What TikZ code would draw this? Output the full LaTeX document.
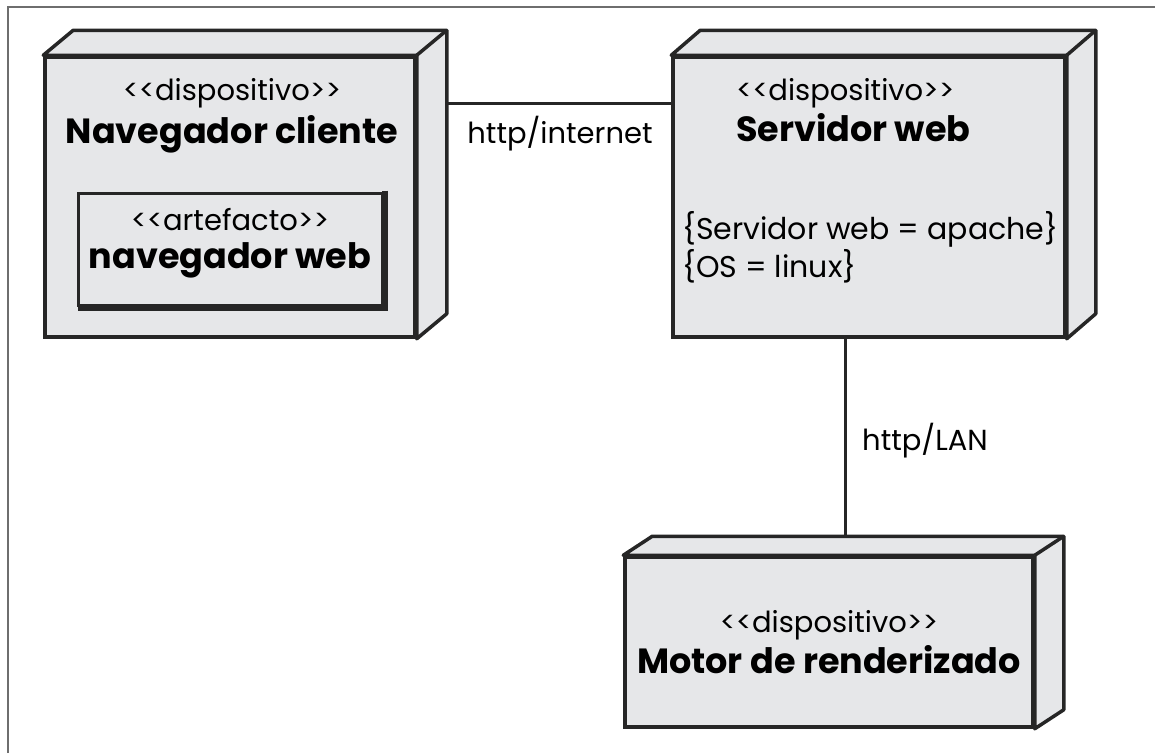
\documentclass[tikz,border=0pt]{standalone}
\usepackage{fontspec}
\setmainfont{Poppins}
\usetikzlibrary{calc, positioning}
\definecolor{devgray}{RGB}{230,231,233}
\definecolor{framegray}{RGB}{110,110,110}
\newcommand{\stereotype}[1]{<{}<#1>{}>}
\tikzset{device/.style = {draw=black!85, line width=3.5pt, fill=devgray, rectangle, inner sep=0pt}}
\tikzset{face/.style = {draw=black!85, line width=3.5pt, fill=devgray, line join=round}}
\tikzset{artifact/.style = {draw=black!85, line width=3pt, rectangle, inner sep=0pt}}
\tikzset{link/.style = {draw=black!85, line width=3pt}}
\tikzset{stereo/.style = {anchor=base, inner sep=0pt, font=\fontsize{29}{33}\selectfont}}
\tikzset{title/.style = {anchor=base, inner sep=0pt, font=\fontsize{35}{39}\selectfont\bfseries}}
\tikzset{prop/.style = {anchor=base west, inner sep=0pt, font=\fontsize{30}{34}\selectfont}}

\begin{document}
\begin{tikzpicture}[x=1pt, y=-1pt]
  \useasboundingbox (0,0) rectangle (1155,753);
  \draw[framegray, line width=2pt] (8,753) -- (8,7) -- (1155,7);

  % nodes (front faces)
  \node[device, minimum width=370pt, minimum height=280pt] (cli) at (230,197) {};
  \node[device, minimum width=392pt, minimum height=280pt] (srv) at (869,197) {};
  \node[device, minimum width=408pt, minimum height=170pt] (mot) at (829,642) {};

  % top and side faces
  \foreach \n/\dx/\dy in {cli/30/-25, srv/29/-25, mot/29/-19}
  {
    \coordinate (\n-bnw) at ([shift={(\dx,\dy)}]\n.north west);
    \coordinate (\n-bne) at ([shift={(\dx,\dy)}]\n.north east);
    \coordinate (\n-bse) at ([shift={(\dx,\dy)}]\n.south east);
    \draw[face] (\n.north west) -- (\n-bnw) -- (\n-bne) -- (\n-bse)
      -- (\n.south east) -- (\n.north east) -- cycle;
    \draw[face] (\n.north east) -- (\n-bne);
  }

  % artifact inside the client
  \node[artifact, minimum width=304pt, minimum height=112pt] (art) at (230,249) {};
  \draw[line width=5.5pt, black!85] ([shift={(1.5,-1)}]art.north east)
    -- ([shift={(1.5,1.5)}]art.south east) -- ([shift={(1,1.5)}]art.south west);

  % texts
  \path (232,100) node[stereo] (cli-st) {\stereotype{dispositivo}}
    ++(0,43) node[title] (cli-nm) {Navegador cliente}
    ++(-2,87) node[stereo] (art-st) {\stereotype{artefacto}}
    ++(0,38) node[title] (art-nm) {navegador web};
  \path (736,100) node[stereo, anchor=base west] (srv-st) {\stereotype{dispositivo}}
    ++(0,41) node[title, anchor=base west] (srv-nm) {Servidor web}
    (682,239) node[prop] (srv-p1) {\{Servidor web = apache\}}
    ++(0,38) node[prop] (srv-p2) {\{OS = linux\}};
  \path (829,632) node[stereo] (mot-st) {\stereotype{dispositivo}}
    ++(0,41) node[title] (mot-nm) {Motor de renderizado};

  % connectors
  \coordinate (inet) at ([yshift=94pt]srv.west);
  \coordinate (lan) at (845,0);
  \draw[link] (cli-bse |- inet) -- (inet);
  \draw[link] (lan |- srv.south) -- (lan |- mot-bnw);
  \node[stereo] (inet-lb) at (560,143) {http/internet};
  \node[stereo, anchor=base west] (lan-lb) at (862,450) {http/LAN};
\end{tikzpicture}
\end{document}
